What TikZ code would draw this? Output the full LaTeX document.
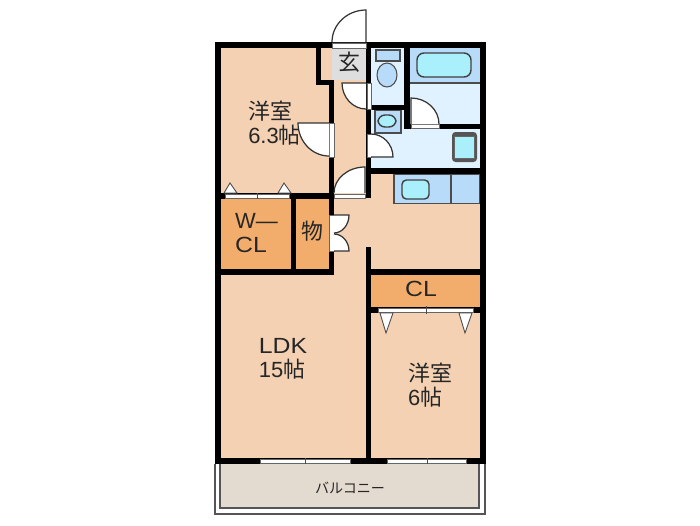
\documentclass[tikz,border=0pt]{standalone}
\usepackage{fontspec}
\setmainfont{Liberation Sans}
\newfontfamily\cjk{Noto Sans CJK JP}
\usetikzlibrary{calc}
\definecolor{roomcol}{HTML}{F4D1B3}
\definecolor{closetcol}{HTML}{F2AD6C}
\definecolor{wetcol}{HTML}{E0F2FF}
\definecolor{fixcol}{HTML}{B7DBF8}
\definecolor{watercol}{HTML}{AAF0FC}
\definecolor{entrycol}{HTML}{DEDEDE}
\definecolor{balconycol}{HTML}{E4DBD0}
\definecolor{framecol}{HTML}{555555}
\tikzset{
    wall/.style={fill=black},
    door/.style={draw=black!80, line width=0.7pt},
    sill/.style={fill=white, draw=black!60, line width=0.3pt},
    fixture/.style={fill=fixcol, draw=black!70, line width=0.6pt},
    basin/.style={fill=watercol, draw=black!75, line width=0.8pt, rounded corners=2.5pt},
    caption/.style={text=black!85, font=\fontsize{12.5}{13.6}\selectfont, align=left, inner sep=0pt},
    smallcaption/.style={text=black!85, font=\fontsize{8}{10}\selectfont, inner sep=0pt}
}
\newcommand{\doorleaf}[3]{
    \fill [white] (#1) -- (#2) .. controls ($(#2)+0.55*(#3)-0.55*(#1)$) and ($(#3)+0.55*(#2)-0.55*(#1)$) .. (#3) -- cycle;
    \draw [door] (#1) -- (#2) .. controls ($(#2)+0.55*(#3)-0.55*(#1)$) and ($(#3)+0.55*(#2)-0.55*(#1)$) .. (#3);
}
\newcommand{\widetext}[1]{\scalebox{1.13}[1]{#1}}
\begin{document}
\begin{tikzpicture}[x=0.02cm, y=-0.02cm]
    \useasboundingbox (0, 0) rectangle (700, 525);

    % Balcony
    \draw [framecol, fill=white, line width=0.6pt] (215, 464) -- (215, 514) -- (485, 514) -- (485, 464);
    \draw [framecol, fill=balconycol, line width=0.8pt] (220, 464) -- (220, 508) -- (479, 508) -- (479, 464);

    % Room floors
    \fill [roomcol] (215, 42) rectangle (486, 464);
    \fill [closetcol] (221, 199) rectangle (291, 269);
    \fill [closetcol] (296, 199) rectangle (329, 269);
    \fill [closetcol] (371, 275) rectangle (480, 307);
    \fill [wetcol] (371, 48) rectangle (480, 168);
    \fill [entrycol] (332, 48) rectangle (366, 80);

    % Bath and toilet
    \draw [fixture, draw=none] (409, 48) rectangle (480, 83);
    \draw [black!70, line width=0.6pt] (409, 83) -- (480, 83);
    \draw [basin, rounded corners=4pt] (417, 53) rectangle (471, 77);
    \draw [fixture] (376, 50) rectangle (400, 61);
    \draw [fixture] (387, 75) ellipse (10 and 12);

    % Wash basin and washer
    \draw [fixture] (375, 110) rectangle (401, 133);
    \draw [basin, rounded corners=4pt] (378, 115) rectangle (396, 127);
    \fill [framecol, rounded corners=2pt] (452, 132) rectangle (477, 162);
    \draw [fill=watercol, draw=black!60, line width=0.4pt] (454.5, 136) rectangle (474.5, 158);

    % Kitchen counter
    \draw [fixture] (394, 174) rectangle (480, 203.5);
    \draw [black!70, line width=0.6pt] (451, 174) -- (451, 203.5);
    \draw [basin] (402, 180) rectangle (429, 199);

    % Walls
    \fill [wall] (215, 42) rectangle (486, 48);
    \fill [wall] (215, 42) rectangle (221, 464);
    \fill [wall] (480, 42) rectangle (486, 464);
    \fill [wall] (215, 458) rectangle (486, 464);
    \fill [wall] (316, 48) rectangle (321, 85);
    \fill [wall] (316, 80) rectangle (334, 85);
    \fill [wall] (329, 80) rectangle (334, 275);
    \fill [wall] (215, 193) rectangle (334, 199);
    \fill [wall] (215, 269) rectangle (334, 275);
    \fill [wall] (291, 193) rectangle (296, 275);
    \fill [wall] (366, 48) rectangle (371, 198);
    \fill [wall] (404, 48) rectangle (410, 129);
    \fill [wall] (371, 105) rectangle (410, 110);
    \fill [wall] (404, 124) rectangle (486, 129);
    \fill [wall] (366, 168) rectangle (486, 174);
    \fill [wall] (366, 247) rectangle (371, 464);
    \fill [wall] (366, 269) rectangle (486, 275);
    \fill [wall] (371, 307) rectangle (486, 313);

    % Door sills
    \draw [sill] (332, 43) rectangle (366, 48);
    \draw [sill] (367, 83) rectangle (371, 109);
    \draw [sill] (367, 134) rectangle (371, 157);
    \draw [sill] (329, 123) rectangle (334, 157);
    \draw [sill] (411, 124) rectangle (439, 128);
    \draw [sill] (334, 194) rectangle (365, 198);
    \draw [sill] (329, 215) rectangle (334, 251);

    % Doors
    \doorleaf{366,42}{366,10}{332,42}
    \doorleaf{366,83}{342,83}{366,109}
    \doorleaf{411,124}{411,98}{439,124}
    \doorleaf{371,157}{393,157}{371,134}
    \doorleaf{329,123}{298,123}{329,156}
    \doorleaf{365,193}{365,167}{334,193}
    \doorleaf{334,215}{349,215}{334,233}
    \doorleaf{334,251}{349,251}{334,234}

    % Sliding doors
    \draw [sill] (225, 194) rectangle (289, 198);
    \draw [black!70] (257, 193) -- (257, 199);
    \draw [sill] (378, 308) rectangle (473, 312);
    \draw [black!70] (426, 306) -- (426, 314);
    \foreach \tipx/\basey/\tipy in {230/193/183, 284/193/183, 386/313/333, 465/313/333} {
        \draw [fill=white, draw=black!70, line width=0.5pt] (\tipx-6, \basey) -- (\tipx, \tipy) -- (\tipx+7, \basey) -- cycle;
    }

    % Balcony windows
    \draw [sill] (260, 459) rectangle (350, 463);
    \draw [black!70] (305, 458) -- (305, 464);
    \draw [sill] (387, 459) rectangle (466, 463);
    \draw [black!70] (427, 458) -- (427, 464);

    % Labels
    \node [caption] (entry) at (349, 62) {\cjk 玄};
    \node [caption] (bedroomA) at (274.5, 123) {{\cjk 洋室}\\6.3{\cjk 帖}};
    \node [caption] (wcl) at (256.5, 233) {W—\\\widetext{CL}};
    \node [caption] (storage) at (312, 231) {\cjk 物};
    \node [caption] (cl) at (421, 289) {\widetext{CL}};
    \node [caption] (ldk) at (283, 359) {\widetext{LDK}\\15{\cjk 帖}};
    \node [caption] (bedroomB) at (430, 385) {{\cjk 洋室}\\6{\cjk 帖}};
    \node [smallcaption] (balcony) at (350, 488) {\cjk バルコニー};
\end{tikzpicture}
\end{document}
